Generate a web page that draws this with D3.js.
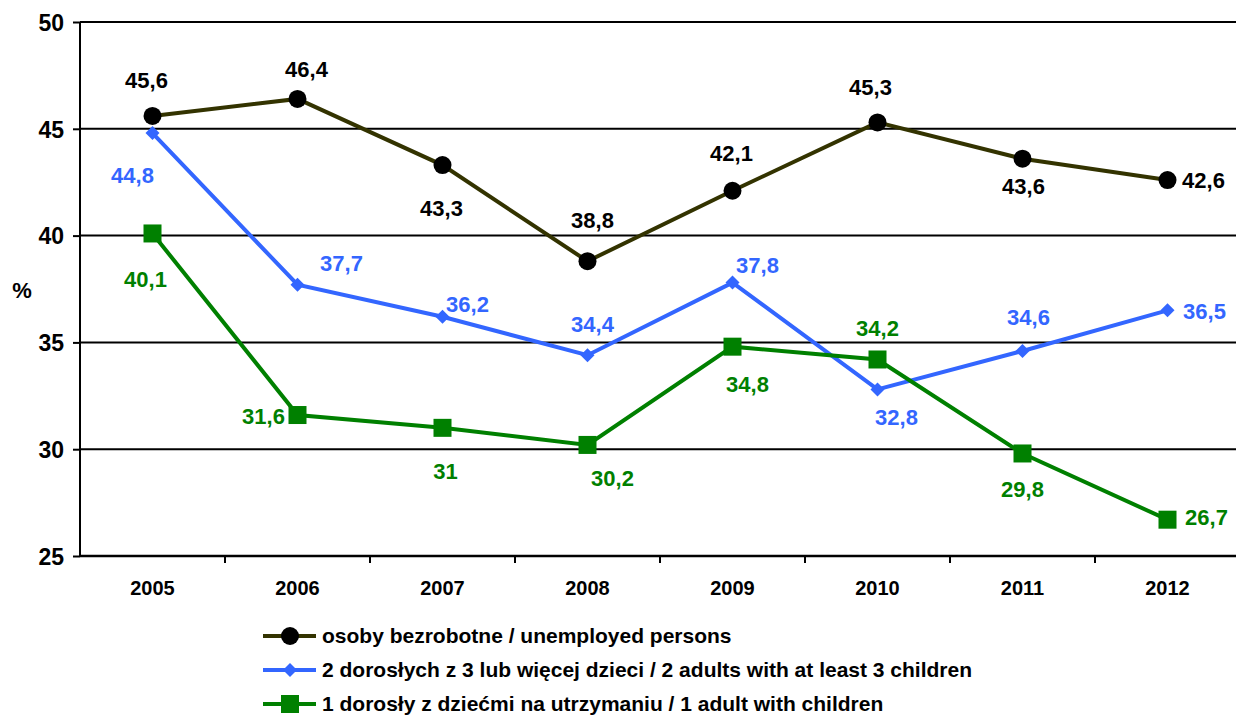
<!DOCTYPE html>
<html>
<head>
<meta charset="utf-8">
<script src="https://cdn.jsdelivr.net/npm/d3@7"></script>
<style>
  body { margin: 0; background: #fff; }
  svg text { font-family: "Liberation Sans", Arial, sans-serif; font-weight: bold; }
</style>
</head>
<body>
<script>
// data
const years = ["2005", "2006", "2007", "2008", "2009", "2010", "2011", "2012"];
const unemployed = [45.6, 46.4, 43.3, 38.8, 42.1, 45.3, 43.6, 42.6];
const twoAdults = [44.8, 37.7, 36.2, 34.4, 37.8, 32.8, 34.6, 36.5];
const oneAdult = [40.1, 31.6, 31, 30.2, 34.8, 34.2, 29.8, 26.7];
const yTicks = [25, 30, 35, 40, 45, 50];
const seriesNames = [
  "osoby bezrobotne / unemployed persons",
  "2 dorosłych z 3 lub więcej dzieci / 2 adults with at least 3 children",
  "1 dorosły z dziećmi na utrzymaniu / 1 adult with children"
];

// label offsets (dx, dy) relative to each point
const offsets = [
  [[-6, -36], [9, -30], [-1, 43], [5, -41], [-1, -37], [-7, -35], [1, 28], [36, 0]],
  [[-20, 42], [44, -21], [25, -12], [5, -31], [25, -17], [19, 28], [6, -34], [37, 1]],
  [[-7, 46], [-34, 1], [3, 43], [25, 33], [15, 38], [0, -31], [0, 36], [39, -2]]
];

const series = [
  { name: seriesNames[0], values: unemployed, line: "#333300", fill: "#000000", label: "#000000", shape: "circle" },
  { name: seriesNames[1], values: twoAdults, line: "#3366FF", fill: "#3366FF", label: "#3366FF", shape: "diamond" },
  { name: seriesNames[2], values: oneAdult, line: "#008000", fill: "#008000", label: "#008000", shape: "square" }
];

const width = 1236, height = 715;
const margin = { left: 80, top: 22, right: -4, bottom: 159 };

const svg = d3.select("body").append("svg")
    .attr("width", width)
    .attr("height", height);

let x = d3.scaleBand()
    .domain(years)
    .range([margin.left, width - margin.right]);

let y = d3.scaleLinear()
    .domain([25, 50])
    .range([height - margin.bottom, margin.top]);

// horizontal grid lines
svg.append("g")
  .selectAll("line")
  .data(yTicks.slice(1))
  .enter()
  .append("line")
    .attr("x1", margin.left)
    .attr("x2", width)
    .attr("y1", d => y(d))
    .attr("y2", d => y(d))
    .attr("stroke", "#000")
    .attr("stroke-width", 2);

// y axis
let yAxis = svg.append("g")
    .attr("transform", `translate(${margin.left},0)`)
    .call(d3.axisLeft(y).tickValues(yTicks).tickSize(7).tickPadding(9).tickFormat(d3.format("d")));
yAxis.select(".domain").attr("stroke-width", 2).attr("d", `M0,${y(50)}V${y(25)}`);
yAxis.selectAll(".tick line").attr("stroke-width", 2);
yAxis.selectAll(".tick text").attr("font-size", 23).attr("fill", "#000").attr("dy", "0.36em");

// x axis
let xAxis = svg.append("g")
    .attr("transform", `translate(0,${y(25)})`)
    .call(d3.axisBottom(x).tickSize(0).tickPadding(25));
xAxis.select(".domain").attr("stroke-width", 2.5).attr("d", `M${margin.left},0H${width}`);
xAxis.selectAll(".tick text").attr("font-size", 20).attr("fill", "#000");

// x tick marks on band boundaries
svg.append("g")
  .selectAll("line")
  .data(years.slice(1))
  .enter()
  .append("line")
    .attr("x1", d => x(d))
    .attr("x2", d => x(d))
    .attr("y1", y(25))
    .attr("y2", y(25) + 7)
    .attr("stroke", "#000")
    .attr("stroke-width", 2);

svg.append("text")
    .attr("x", 22)
    .attr("y", 298)
    .attr("text-anchor", "middle")
    .attr("font-size", 22)
    .text("%");

const cx = d => x(d) + x.bandwidth() / 2;

function drawMarker(g, shape, color) {
  if (shape === "circle") {
    g.append("circle").attr("r", 9).attr("fill", color);
  } else if (shape === "diamond") {
    g.append("path").attr("d", "M0,-7L7,0L0,7L-7,0Z").attr("fill", color);
  } else {
    g.append("rect").attr("x", -9).attr("y", -9).attr("width", 18).attr("height", 18).attr("fill", color);
  }
}

let line = d3.line()
    .x((d, i) => cx(years[i]))
    .y(d => y(d));

series.forEach((s, si) => {
  let g = svg.append("g");
  g.append("path")
      .attr("d", line(s.values))
      .attr("fill", "none")
      .attr("stroke", s.line)
      .attr("stroke-width", 4);

  s.values.forEach((v, i) => {
    let m = g.append("g").attr("transform", `translate(${cx(years[i])},${y(v)})`);
    drawMarker(m, s.shape, s.fill);
  });

  g.selectAll("text")
    .data(s.values)
    .enter()
    .append("text")
      .attr("x", (d, i) => cx(years[i]) + offsets[si][i][0])
      .attr("y", (d, i) => y(d) + offsets[si][i][1])
      .attr("text-anchor", "middle")
      .attr("dy", "0.35em")
      .attr("font-size", 22)
      .attr("fill", s.label)
      .text(d => String(d).replace(".", ","));
});

// legend
let legend = svg.append("g");
series.forEach((s, i) => {
  let ly = 636 + i * 34;
  legend.append("line")
      .attr("x1", 263).attr("x2", 316)
      .attr("y1", ly).attr("y2", ly)
      .attr("stroke", s.line)
      .attr("stroke-width", 4);
  let m = legend.append("g").attr("transform", `translate(290,${ly})`);
  drawMarker(m, s.shape, s.fill);
  legend.append("text")
      .attr("x", 322)
      .attr("y", ly)
      .attr("dy", "0.35em")
      .attr("font-size", 21)
      .attr("fill", "#000")
      .text(s.name);
});
</script>
</body>
</html>
